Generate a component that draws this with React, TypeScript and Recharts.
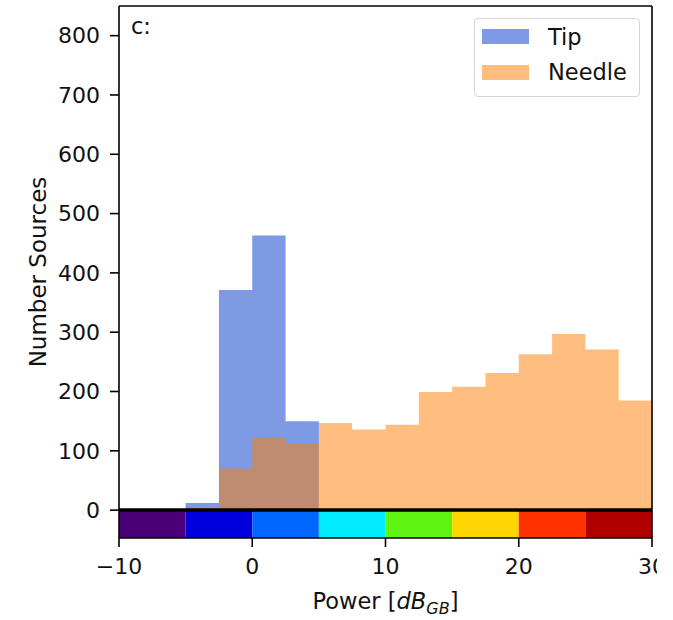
import React from "react";
import {
  ComposedChart,
  Area,
  XAxis,
  YAxis,
  ReferenceArea,
  ReferenceLine,
  Legend,
} from "recharts";

const FONT = '"DejaVu Sans", sans-serif';
const INK = "#111";

// histogram bins, 2.5 dB wide
const binEdges = [-10, -7.5, -5, -2.5, 0, 2.5, 5, 7.5, 10, 12.5, 15, 17.5, 20, 22.5, 25, 27.5, 30];
const tipCounts = [0, 0, 12, 371, 463, 150, 0, 0, 0, 0, 0, 0, 0, 0, 0, 0];
const needleCounts = [0, 0, 5, 70, 122, 113, 147, 136, 144, 199, 208, 231, 263, 297, 271, 185];

const xTicks = [-10, 0, 10, 20, 30];
const yTicks = [0, 100, 200, 300, 400, 500, 600, 700, 800];

// colour strip under the zero line
const colorbarEdges = [-10, -5, 0, 5, 10, 15, 20, 25, 30];
const colorbarColors = ["#4b0078", "#0000dd", "#0066ff", "#00eeff", "#5ff412", "#ffd500", "#ff3300", "#b00000"];

const series = [
  { key: "tip", name: "Tip", fill: "#4068d8", opacity: 0.67 },
  { key: "needle", name: "Needle", fill: "#ff7d00", opacity: 0.5 },
];

const Y_MIN = -47;
const Y_MAX = 850;

// stepAfter needs the last edge too, it just repeats the final bin
const data = binEdges.map((x, i) => {
  const b = Math.min(i, tipCounts.length - 1);
  return { x, tip: tipCounts[b], needle: needleCounts[b] };
});

const fmt = (v: number) => (v < 0 ? "\u2212" + Math.abs(v) : String(v));

function LegendBox() {
  return (
    <div style={{
      width: 166, height: 79, boxSizing: "border-box",
      border: "1px solid #d6d6d6", borderRadius: 4,
      background: "rgba(255,255,255,0.8)", position: "relative",
      fontFamily: FONT, fontSize: 22.5, color: INK,
    }}>
      {series.map((s, i) => (
        <React.Fragment key={s.key}>
          <div style={{
            position: "absolute", left: 7, top: 10 + i * 36, width: 47, height: 15,
            background: s.fill, opacity: s.opacity,
          }} />
          <div style={{
            position: "absolute", left: 73, top: 5 + i * 35,
            lineHeight: "normal", whiteSpace: "nowrap",
          }}>
            {s.name}
          </div>
        </React.Fragment>
      ))}
    </div>
  );
}

function PowerLabel(props: any) {
  const vb = props.viewBox || { x: 119, y: 538, width: 533, height: 82 };
  return (
    <text x={vb.x + vb.width / 2} y={vb.y + 71} textAnchor="middle"
      fill={INK} fontFamily={FONT} fontSize={22.5}>
      <tspan>Power [</tspan>
      <tspan fontStyle="italic">dB</tspan>
      <tspan fontStyle="italic" fontSize={16} dy={4.5}>GB</tspan>
      <tspan dy={-4.5}>]</tspan>
    </text>
  );
}

function CountLabel(props: any) {
  const vb = props.viewBox || { x: 0, y: 6, width: 119, height: 532 };
  const cx = vb.x + 46;
  const cy = vb.y + vb.height / 2;
  return (
    <text x={cx} y={cy} textAnchor="middle" transform={`rotate(-90, ${cx}, ${cy})`}
      fill={INK} fontFamily={FONT} fontSize={23}>
      Number Sources
    </text>
  );
}

export default function App() {
  const spine = { stroke: "#000", strokeWidth: 1.6 };
  return (
    <div style={{ position: "absolute", left: 0, top: 0, width: 673, height: 620, background: "#fff" }}>
      <ComposedChart
        width={657}
        height={620}
        data={data}
        margin={{ top: 6, right: 5, bottom: 0, left: 0 }}
      >
        <XAxis
          dataKey="x"
          type="number"
          domain={[-10, 30]}
          allowDataOverflow
          ticks={xTicks}
          interval={0}
          tickFormatter={fmt}
          height={82}
          tickSize={9}
          tickMargin={11}
          axisLine={spine}
          tickLine={spine}
          tick={{ fill: INK, fontSize: 22, fontFamily: FONT }}
          label={(p: any) => <PowerLabel {...p} />}
        />
        <YAxis
          type="number"
          domain={[Y_MIN, Y_MAX]}
          allowDataOverflow
          ticks={yTicks}
          interval={0}
          width={119}
          tickSize={9}
          tickMargin={10}
          axisLine={spine}
          tickLine={spine}
          tick={{ fill: INK, fontSize: 22, fontFamily: FONT }}
          label={(p: any) => <CountLabel {...p} />}
        />
        {series.map((s) => (
          <Area
            key={s.key}
            dataKey={s.key}
            name={s.name}
            type="stepAfter"
            baseValue={0}
            stroke="none"
            fill={s.fill}
            fillOpacity={s.opacity}
            dot={false}
            activeDot={false}
            isAnimationActive={false}
          />
        ))}
        {colorbarColors.map((c, i) => (
          <ReferenceArea
            key={c}
            x1={colorbarEdges[i]}
            x2={colorbarEdges[i + 1]}
            y1={Y_MIN}
            y2={0}
            fill={c}
            fillOpacity={1}
            stroke="none"
          />
        ))}
        <ReferenceLine y={0} stroke="#000" strokeWidth={3.5} />
        <ReferenceLine y={Y_MAX} {...spine} />
        <ReferenceLine x={30} {...spine} />
        <text x={131} y={33.5} fill={INK} fontFamily={FONT} fontSize={22.5}>c:</text>
        <Legend
          layout="vertical"
          align="center"
          verticalAlign="middle"
          wrapperStyle={{ left: 474, top: 18, width: 166, height: 79 }}
          content={() => <LegendBox />}
        />
      </ComposedChart>
    </div>
  );
}
